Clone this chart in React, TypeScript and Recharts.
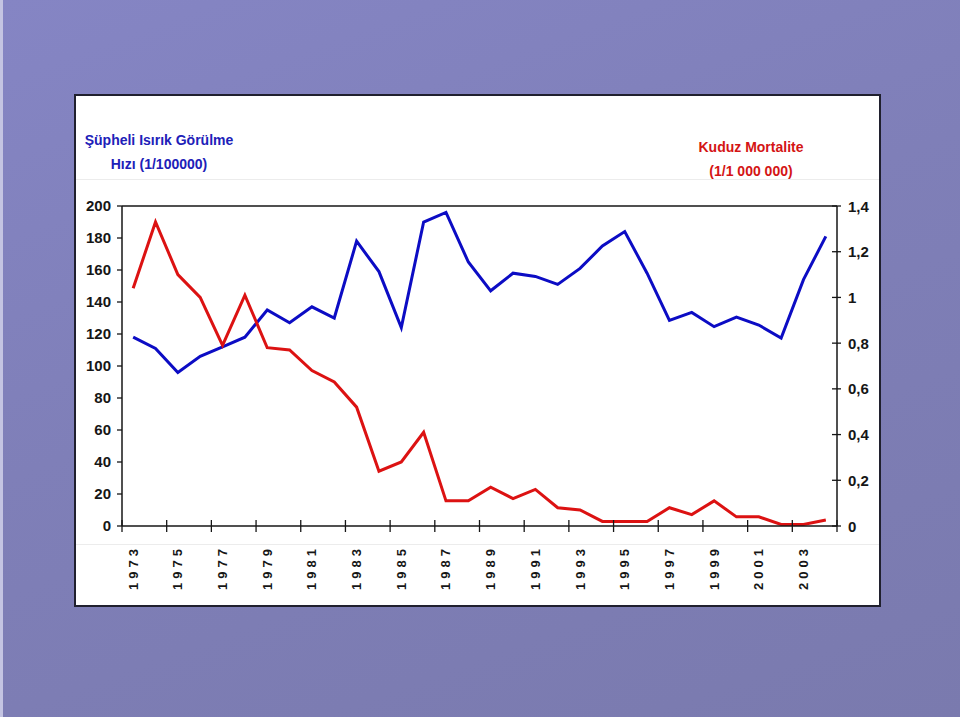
import { Line, LineChart, ReferenceLine, XAxis, YAxis } from "recharts";

// years 1973..2004
const years = [
  1973, 1974, 1975, 1976, 1977, 1978, 1979, 1980, 1981, 1982, 1983, 1984, 1985, 1986, 1987, 1988,
  1989, 1990, 1991, 1992, 1993, 1994, 1995, 1996, 1997, 1998, 1999, 2000, 2001, 2002, 2003, 2004,
];
// Şüpheli ısırık görülme hızı (1/100000) - left axis
const biteRate = [
  118, 111, 96, 106, 112, 118, 135, 127, 137, 130, 178, 159, 124, 190, 196, 165,
  147, 158, 156, 151, 161, 175, 184, 158, 128.5, 133.5, 124.6, 130.6, 125.6, 117.5, 154, 181,
];
// Kuduz mortalite (1/1 000 000) - right axis
const mortality = [
  1.04, 1.33, 1.1, 1.0, 0.79, 1.01, 0.78, 0.77, 0.68, 0.63, 0.52, 0.24, 0.28, 0.41, 0.11, 0.11,
  0.17, 0.12, 0.16, 0.08, 0.07, 0.02, 0.02, 0.02, 0.08, 0.05, 0.11, 0.04, 0.04, 0.007, 0.007, 0.026,
];
const leftTicks = [0, 20, 40, 60, 80, 100, 120, 140, 160, 180, 200];
const rightTicks = [0, 0.2, 0.4, 0.6, 0.8, 1, 1.2, 1.4];
// tick marks at category boundaries every two years, labels on odd years
const xMarks = [
  1972.5, 1974.5, 1976.5, 1978.5, 1980.5, 1982.5, 1984.5, 1986.5, 1988.5, 1990.5, 1992.5, 1994.5,
  1996.5, 1998.5, 2000.5, 2002.5, 2004.5,
];
const xLabels = [1973, 1975, 1977, 1979, 1981, 1983, 1985, 1987, 1989, 1991, 1993, 1995, 1997, 1999, 2001, 2003];

const data = years.map((y, i) => ({ year: y, bite: biteRate[i], mort: mortality[i] }));

const FONT = "'Liberation Sans', Arial, sans-serif";
const INK = "#161616";

const XTick = (props: any) => {
  const { x, y, payload } = props;
  const v = payload.value;
  if (v % 1 !== 0) {
    return <line x1={x} x2={x} y1={y - 6} y2={y + 6} stroke={INK} strokeWidth={1.3} />;
  }
  return (
    <text
      transform={`translate(${x},${y + 19}) rotate(-90)`}
      textAnchor="end"
      dominantBaseline="central"
      fontFamily={FONT}
      fontWeight="bold"
      fontSize={13}
      letterSpacing={4}
      fill={INK}
    >
      {v}
    </text>
  );
};

const RightTick = (props: any) => {
  const { x, y, payload } = props;
  return (
    <g>
      <line x1={x - 5} x2={x + 4} y1={y} y2={y} stroke={INK} strokeWidth={1.3} />
      <text x={x + 11} y={y} dominantBaseline="central" fontFamily={FONT} fontWeight="bold" fontSize={15} fill={INK}>
        {String(payload.value).replace(".", ",")}
      </text>
    </g>
  );
};

const App = () => (
  <div
    style={{
      position: "absolute",
      left: 0,
      top: 0,
      width: 960,
      height: 717,
      overflow: "hidden",
      background: "linear-gradient(160deg, #8585c4 0%, #7f7fb8 45%, #7a7aae 100%)",
      boxShadow: "inset 3px 0 0 #c4c4e2",
    }}
  >
    <div
      style={{
        position: "absolute",
        left: 74,
        top: 94,
        width: 807,
        height: 513,
        background: "#fff",
        border: "2px solid #20202e",
        boxSizing: "border-box",
      }}
    />
    <div style={{ position: "absolute", left: 76, top: 179, width: 803, height: 1, background: "#ececec" }} />
    <div style={{ position: "absolute", left: 76, top: 544, width: 803, height: 1, background: "#ececec" }} />
    <div
      style={{
        position: "absolute",
        left: 76,
        top: 128,
        width: 166,
        textAlign: "center",
        fontFamily: FONT,
        fontWeight: "bold",
        fontSize: 14,
        lineHeight: "24px",
        color: "#2020b8",
      }}
    >
      Şüpheli Isırık Görülme
      <br />
      Hızı (1/100000)
    </div>
    <div
      style={{
        position: "absolute",
        left: 670,
        top: 135,
        width: 162,
        textAlign: "center",
        fontFamily: FONT,
        fontWeight: "bold",
        fontSize: 14,
        lineHeight: "24px",
        color: "#d41414",
      }}
    >
      Kuduz Mortalite
      <br />
      (1/1 000 000)
    </div>
    <div style={{ position: "absolute", left: 75, top: 95 }}>
      <LineChart width={805} height={511} data={data} margin={{ top: 111, right: 0, bottom: 0, left: 0 }}>
        <XAxis
          dataKey="year"
          type="number"
          domain={[1972.5, 2004.5]}
          ticks={[...xMarks, ...xLabels].sort((a, b) => a - b)}
          interval={0}
          height={80}
          tickLine={false}
          tickSize={0}
          tickMargin={0}
          tick={<XTick />}
          axisLine={{ stroke: INK, strokeWidth: 1.5 }}
        />
        <YAxis
          yAxisId="left"
          orientation="left"
          domain={[0, 200]}
          ticks={leftTicks}
          interval={0}
          width={47}
          tickSize={5}
          tickMargin={6}
          tickLine={{ stroke: INK, strokeWidth: 1.3 }}
          axisLine={{ stroke: INK, strokeWidth: 1.5 }}
          tick={{ fill: INK, fontFamily: FONT, fontWeight: "bold", fontSize: 15 }}
        />
        <YAxis
          yAxisId="right"
          orientation="right"
          domain={[0, 1.4]}
          ticks={rightTicks}
          interval={0}
          width={43}
          tickSize={0}
          tickMargin={0}
          tickLine={false}
          axisLine={{ stroke: INK, strokeWidth: 1.5 }}
          tick={<RightTick />}
        />
        <ReferenceLine yAxisId="left" y={200} stroke={INK} strokeWidth={1.5} />
        <Line
          yAxisId="left"
          type="linear"
          dataKey="bite"
          stroke="#0c0cc4"
          strokeWidth={3}
          dot={false}
          isAnimationActive={false}
        />
        <Line
          yAxisId="right"
          type="linear"
          dataKey="mort"
          stroke="#dc1212"
          strokeWidth={3}
          dot={false}
          isAnimationActive={false}
        />
      </LineChart>
    </div>
  </div>
);

export default App;
